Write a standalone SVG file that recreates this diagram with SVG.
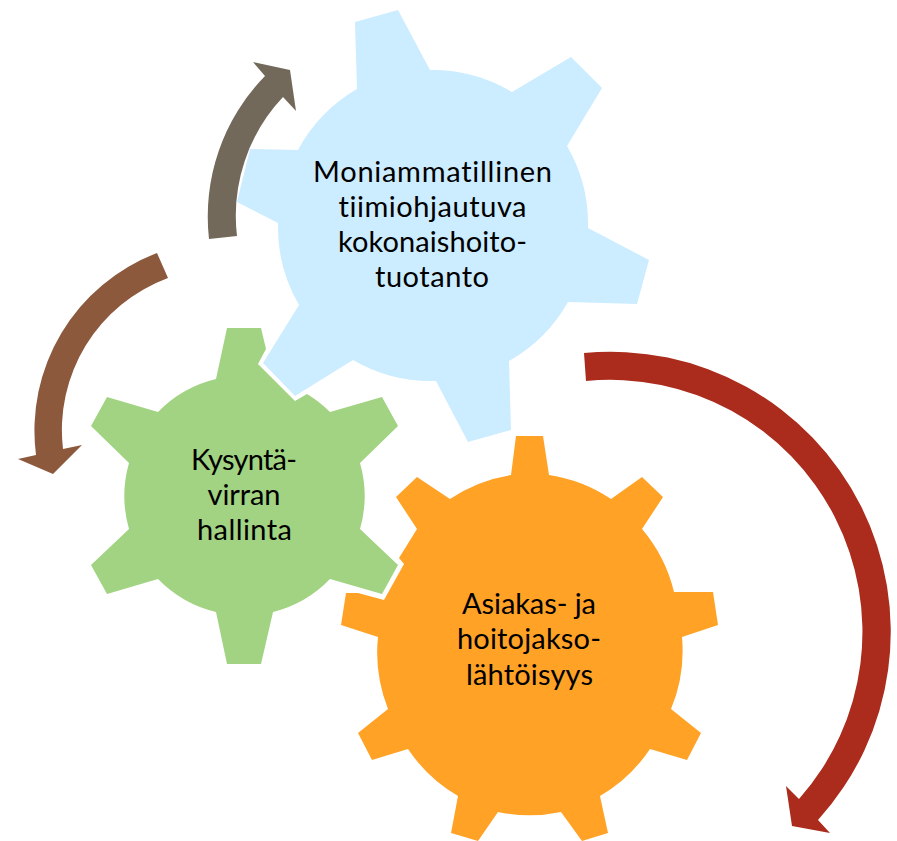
<svg xmlns="http://www.w3.org/2000/svg" width="897" height="841" viewBox="0 0 897 841">
<style>
.label{font-family:"Lato","Liberation Sans",sans-serif;font-size:29px;fill:#000;text-anchor:middle;font-variant-ligatures:none}
.blue{fill:#CCECFF}.green{fill:#A1D382}.orange{fill:#FFA226}
</style>
<rect width="897" height="841" fill="#fff"/>
<g id="connectors">
<path id="arrow-red" fill="#AB2B1C" d="M584 353A280 280 0 0 1 818 820L830 833L792 826L786 786L799 799A252 252 0 0 0 586 381Z"/>
<path id="arrow-grey" fill="#72695A" d="M209 239A201 201 0 0 1 265 76L253 62L290 70L296 111L283 97A173 173 0 0 0 237 236Z"/>
<path id="arrow-brown" fill="#8D593D" d="M157 253A190 190 0 0 0 36 455L18 459L53 474L82 445L63 449A162 162 0 0 1 168 278Z"/>
</g>
<g id="gear-blue">
<path class="blue" d="M355 22L398 10L430 70A155 155 0 0 1 512 92L571 57L602 88L567 146A155 155 0 0 1 588 228L649 260L637 304L568 302A155 155 0 0 1 509 361L511 430L468 442L436 381A155 155 0 0 1 353 360L295 396L263 363L299 305A155 155 0 0 1 278 223L237 202L250 149L298 150A155 155 0 0 1 357 89Z"/>
<text class="label" x="432.5" y="182" textLength="239">Moniammatillinen</text>
<text class="label" x="432.5" y="217" textLength="188">tiimiohjautuva</text>
<text class="label" x="432.5" y="252" textLength="189">kokonaishoito-</text>
<text class="label" x="432" y="287" textLength="114">tuotanto</text>
</g>
<g id="gear-green">
<path class="green" d="M227 328L261 328L266 349L258 364L295 401L307 394A120 120 0 0 1 330 412L382 397L398 426L360 463A120 120 0 0 1 360 529L398 565L382 594L330 579A120 120 0 0 1 273 612L261 664L227 664L216 612A120 120 0 0 1 158 579L107 594L91 565L129 529A120 120 0 0 1 129 463L91 426L107 397L158 412A120 120 0 0 1 216 379Z"/>
<text class="label" x="244" y="470" textLength="106">Kysyntä-</text>
<text class="label" x="244" y="505" textLength="73">virran</text>
<text class="label" x="244.5" y="540" textLength="95">hallinta</text>
</g>
<g id="gear-orange">
<path class="orange" d="M516 436L543 436L549 475A152 152 0 0 1 611 499L642 477L663 497L642 529A152 152 0 0 1 674 592L713 592L718 625L682 637A152 152 0 0 1 671 709L701 733L687 760L650 749A152 152 0 0 1 600 796L608 833L582 841L561 812A152 152 0 0 1 498 812L478 841L451 833L458 796A152 152 0 0 1 408 749L372 760L358 733L388 709A152 152 0 0 1 378 637L341 625L346 593L358 593L384 600L404 564L399 558L417 529L396 497L417 477L450 499A152 152 0 0 1 511 475Z"/>
<text class="label" x="529" y="614" textLength="134">Asiakas- ja</text>
<text class="label" x="529" y="649" textLength="144">hoitojakso-</text>
<text class="label" x="529.5" y="685" textLength="127">lähtöisyys</text>
</g>
</svg>
